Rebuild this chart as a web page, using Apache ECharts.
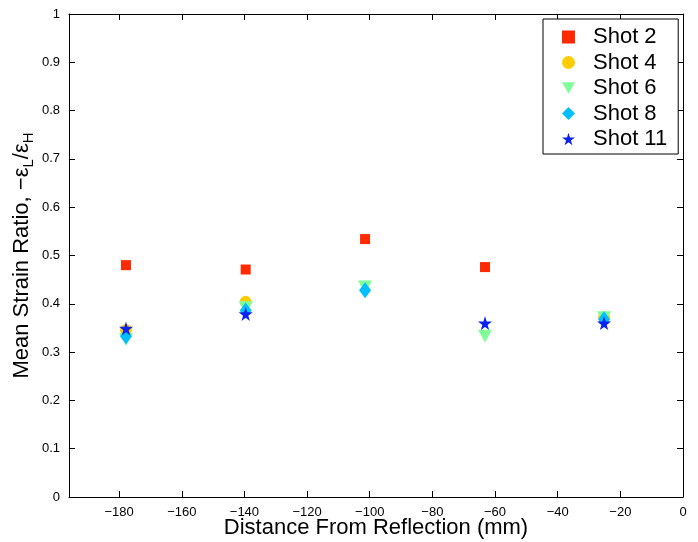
<!DOCTYPE html>
<html>
<head>
<meta charset="utf-8">
<script src="https://cdn.jsdelivr.net/npm/echarts@6/dist/echarts.min.js"></script>
<style>
  html, body { margin: 0; padding: 0; background: #fff; }
  #chart { width: 698px; height: 542px; }
</style>
</head>
<body>
<div id="chart"></div>
<script>
// Measurement stations along the bar (mm from the reflection point)
const distances = [-177.8, -139.6, -101.5, -63.2, -25.2];

// Mean strain ratio per shot (null = no measurement at that station)
const shot2  = [0.480, 0.471, 0.534, 0.476, 0.372];
const shot4  = [0.346, 0.404, null, null, 0.372];
const shot6  = [0.326, 0.392, 0.435, 0.333, 0.371];
const shot8  = [0.333, 0.386, 0.428, null, 0.368];
const shot11 = [0.349, 0.379, null, 0.360, 0.360];

const seriesNames = ['Shot 2', 'Shot 4', 'Shot 6', 'Shot 8', 'Shot 11'];
const xTicks = [-180, -160, -140, -120, -100, -80, -60, -40, -20, 0];

const FONT = '"Liberation Sans", Arial, Helvetica, sans-serif';
const STAR = 'path://M50,0 L61,35 L98,35 L68,57 L79,91 L50,70 L21,91 L32,57 L2,35 L39,35 Z';
const TRI_DOWN = 'path://M0,0 L10,0 L5,9 Z';

function pairs(values) {
  return distances.map((d, i) => [d, values[i]]).filter(p => p[1] !== null);
}

const styles = [
  { data: shot2,  symbol: 'rect',     size: 10,       color: '#ff2a00' },
  { data: shot4,  symbol: 'circle',   size: 12,       color: '#ffcc00' },
  { data: shot6,  symbol: TRI_DOWN,   size: [14, 13], color: '#80ff99' },
  { data: shot8,  symbol: 'diamond',  size: [12, 16], color: '#00bfff' },
  { data: shot11, symbol: STAR,       size: 14,       color: '#0a22f0' }
];

const minus = v => String(v).replace('-', '\u2212');

const chart = echarts.init(document.getElementById('chart'));
chart.setOption({
  animation: false,
  backgroundColor: '#fff',
  textStyle: { fontFamily: FONT },
  grid: { left: 69, right: 15, top: 14, bottom: 45, containLabel: false, outerBoundsMode: 'none' },
  legend: {
    orient: 'vertical',
    left: 543,
    top: 19,
    padding: [7, 11, 4, 19],
    itemWidth: 13,
    itemHeight: 13,
    itemGap: 3.5,
    borderColor: '#000',
    borderWidth: 1,
    backgroundColor: '#fff',
    textStyle: { fontSize: 22, color: '#000', fontFamily: FONT, lineHeight: 22, padding: [0, 0, 0, 13] },
    data: seriesNames
  },
  xAxis: [{
    type: 'value',
    min: -196,
    max: 0,
    name: 'Distance From Reflection (mm)',
    nameLocation: 'middle',
    nameGap: 20,
    nameMoveOverlap: false,
    nameTextStyle: { fontSize: 22, color: '#000', fontFamily: FONT },
    axisLine: { onZero: false, lineStyle: { color: '#000', width: 1 } },
    axisTick: { inside: true, length: 6, lineStyle: { color: '#000' }, customValues: xTicks },
    axisLabel: { color: '#000', fontSize: 13, margin: 9, formatter: minus, customValues: xTicks },
    splitLine: { show: false }
  }, {
    type: 'value',
    position: 'top',
    min: -196,
    max: 0,
    axisLine: { onZero: false, lineStyle: { color: '#000', width: 1 } },
    axisTick: { inside: true, length: 6, lineStyle: { color: '#000' }, customValues: xTicks },
    axisLabel: { show: false },
    splitLine: { show: false }
  }],
  yAxis: [{
    type: 'value',
    min: 0,
    max: 1,
    interval: 0.1,
    name: '{m|Mean Strain Ratio, \u2212\u03b5}{s|L}{m|/\u03b5}{s|H}',
    nameLocation: 'middle',
    nameGap: 33,
    nameMoveOverlap: false,
    nameRotate: 90,
    nameTextStyle: {
      color: '#000',
      fontFamily: FONT,
      rich: {
        m: { fontSize: 22, lineHeight: 28, verticalAlign: 'middle', color: '#000', fontFamily: FONT },
        s: { fontSize: 15, lineHeight: 28, verticalAlign: 'bottom', color: '#000', fontFamily: FONT }
      }
    },
    axisLine: { show: true, onZero: false, lineStyle: { color: '#000', width: 1 } },
    axisTick: { show: true, inside: true, length: 6, lineStyle: { color: '#000' } },
    axisLabel: { color: '#000', fontSize: 13, margin: 9 },
    splitLine: { show: false }
  }, {
    type: 'value',
    position: 'right',
    min: 0,
    max: 1,
    interval: 0.1,
    axisLine: { show: true, onZero: false, lineStyle: { color: '#000', width: 1 } },
    axisTick: { show: true, inside: true, length: 6, lineStyle: { color: '#000' } },
    axisLabel: { show: false },
    splitLine: { show: false }
  }],
  series: styles.map((s, i) => ({
    name: seriesNames[i],
    type: 'scatter',
    symbol: s.symbol,
    symbolSize: s.size,
    itemStyle: { color: s.color, opacity: 1 },
    data: pairs(s.data),
    z: 2 + i
  }))
});
</script>
</body>
</html>
